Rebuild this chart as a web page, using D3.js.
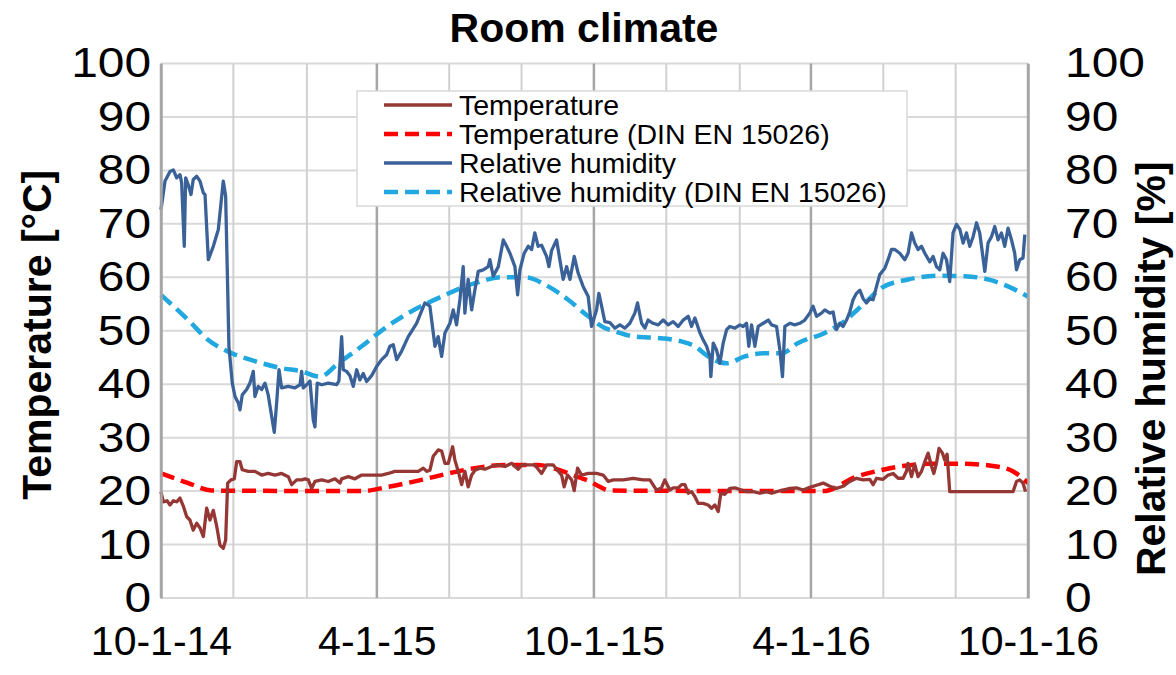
<!DOCTYPE html>
<html>
<head>
<meta charset="utf-8">
<script src="https://cdn.jsdelivr.net/npm/d3@7"></script>
<style>
  html, body { margin: 0; padding: 0; background: #fff; }
  svg text { font-family: "Liberation Sans", Arial, sans-serif; }
</style>
</head>
<body>
<svg id="chart" width="1176" height="675"></svg>
<script>
// ---- Data (day offsets from 2014-10-01) ----
const startDate = "2014-10-01";
const endDate = "2016-10-01";

const tempDays = [0,1.9,5.1,7.6,10.4,13.2,16,18.8,21.7,24.4,27.2,30.1,32.9,35.7,38.5,41.3,44.1,46.9,49.7,52.5,54.5,56.2,59,61.8,63.8,66.6,68.5,73.6,79.2,84.9,90.4,96.1,101.7,107.3,110.2,114.4,118.6,121.4,124.2,127,129.8,135.5,141,146.7,150.9,152.3,157.9,163.5,169.2,177.6,186,191.6,197.2,202.9,208.5,216.9,221.1,224,226.7,229.5,233.7,236.6,239.4,242.2,245.9,247.8,250.6,253.5,256.2,259,261.9,264.7,268.9,273.1,278.7,284.3,290,295.6,301.2,304,309.6,315.2,320.9,325.1,330.7,333.5,337.8,339.9,342.8,346.2,348.4,351.2,354.6,360.2,367.2,372.8,377.1,381.3,389.7,398.1,406.6,412.2,417.8,422,424.8,429,431.8,436.1,438.9,441.7,444.5,447.3,450.1,452.9,457.1,461.3,464.2,467,469.8,472,475.4,479.6,483.9,488.1,493.7,499.3,504.9,510.5,514.8,519,524.5,530.2,535.8,541.4,547,552.7,558.3,563.9,569.5,575.1,580.7,586.4,592,597.6,600.4,603.3,608.8,613.1,617.3,621.5,625.7,628.5,629.9,632.8,635.5,638.3,641.2,644,646.8,649.7,651.6,653.8,656,658.9,660.8,662.8,665,676.3,690.3,704.4,718.4,721.3,724,726.8,728.9];
const tempValues = [19.9,18,18.2,17.4,18.2,18,18.7,17.2,15.2,14.6,12.7,14,13.1,11.5,16.8,14.6,16.4,13.5,9.9,9.3,10.8,21.5,22.1,22.3,25.5,25.5,24,23.7,23.7,23,23.3,23,23.3,22.7,21.2,22.1,22.1,22.3,22.1,20.5,21.8,22.1,21.8,22.3,21.5,22.3,22.7,22.3,23,23,23,23.3,23.7,23.7,23.7,23.7,24.3,23.7,23.9,26.5,27.7,27.5,25.2,25.2,28.3,25.8,23.7,21.2,23.7,20.8,23,23.9,24.3,24.1,24.6,24.9,24.6,25.2,24.1,24.9,24.9,24.9,23.3,24.9,24.9,24.1,23,20.8,23,22.1,20.1,24.3,23,23.3,23.3,23,21.8,22.1,22.1,22.4,22.1,22.1,20.2,20.6,22.1,20.2,20.6,20.6,21.2,21.2,19.6,19.9,19,17.7,17.7,17.4,16.8,17.4,16.2,19.6,19.4,20.5,20.6,20.3,19.9,19.9,19.6,19.9,19.6,19.9,20.2,20.5,20.6,20.2,20.7,21.1,21.5,20.9,20.5,20.9,21.8,22.4,22.1,22.2,21.2,22.4,22.2,23,23.3,22.4,22.4,23.7,25.2,22.7,25,22.7,23.7,25.5,27.1,24.6,23.3,25.2,28,27.1,25.8,26.9,19.9,19.9,19.9,19.9,19.9,21.8,22.1,21.5,19.9];

const tempDinDays = [0,23,42.7,169.2,191.6,219.7,242.2,264.7,290,318,334.9,354.6,361.6,370,378.5,558.3,586.4,608.8,625.4,648.2,676.3,704.4,718.2,731];
const tempDinValues = [23.3,21.5,20.1,20,20.8,22.1,23.3,24.3,24.9,24.9,24,22.4,21.8,20.8,20.1,20,22.7,24,24.7,25.1,25.1,24.6,23.7,21.5];

const rhDays = [0,3.4,7.6,10.4,13.2,16,17.4,19.6,20.8,23,25.3,27.2,30.1,32.9,35.7,37.1,39.9,44.1,48.3,52.5,54.5,57.3,60.1,62.4,65.2,66.6,68.5,72.2,75,77.8,79.2,82,84.9,87.7,90.4,93.3,95.5,97.5,99.5,101.7,107.3,112.9,117.2,118.6,119.9,124.2,125.6,128.4,129.8,131.7,135.5,141,148.1,150,152.3,153.7,156.5,159.3,162.1,165,167.7,170.5,173.4,177.6,181.8,186,190.2,193,195.8,198.7,202.9,208.5,215.5,222.5,226.7,231,233.7,236.6,239.4,243.6,246.4,249.2,252,254.8,256.2,259,261.9,264.7,267.5,271.7,275.9,277.3,280.1,284.4,288.6,291.4,294.2,298.4,300.7,302.6,306.2,309.6,312.5,315.2,318,320.9,325.1,327.1,329.3,333.5,336.3,339.1,342,344.8,348.4,351.7,355.9,360.2,363,367.2,369.2,371.5,374.2,378.5,382.7,386.9,391.1,395.3,399.5,401.8,405.2,408,410.7,414.9,419.2,423.4,427.6,431.8,436.1,440.3,444.5,447.3,450.2,454.4,457.1,460,462.8,463.6,465.6,468.4,471.2,474,476.9,479.6,483.9,488.1,490.8,493.7,495.6,497.9,500.7,503.5,507.8,512,514.8,519,521.8,524,526,530.2,534.4,538.6,542.8,547,549.8,552.7,556.9,559.7,563.9,566.7,569.5,572.3,575.1,578,580.7,583.5,586.4,589.2,592,594.8,597.6,600.4,603.3,606,610.3,613,615.9,618.7,622.9,627.1,629.9,632.8,635.5,638.3,641.2,644,648.2,651,653.8,656.6,659.4,662.3,665,667.8,670.7,673.5,676.3,679.1,681.9,684.7,687.6,690.3,691.8,694.6,697.3,700.2,703,705.8,708.6,711.4,714.2,717.1,719.8,721.3,724,726.8,728.3];
const rhValues = [72.7,78,79.8,80.1,78.6,79.2,77.7,65.8,78.6,77.3,75.5,78.3,78.9,78,75.8,75.5,63.3,65.8,68.9,78,75.2,47,40.2,37.7,36.5,35.2,38,39,40.2,42.4,37.7,39.6,39,40.2,38,34,31,36.5,42.7,39.3,39.6,39.3,39.9,42.4,39.3,40.2,40.6,33.3,32,40.2,39.9,40.2,39.9,40.6,48.9,42.7,42.4,41.6,39.6,42.7,40.8,42,40.5,41.6,43.3,44.6,45.5,47.1,47.4,44.6,46.2,48.9,51.4,55.2,54.6,47.1,48.9,45.2,49.6,51.4,53.9,51.1,55.8,62,53.3,59.6,53.9,57.7,61.1,61.4,62,63.3,60.2,62,67,65.8,64.5,62,56.7,61.4,64.5,65.8,65.2,68.3,65.8,66,63.9,62,65,67,63.3,59.6,62,59.6,63.9,60.8,58.3,56.4,50.8,53.9,57,54.6,51.7,51.5,50.5,51.1,50.5,51.4,53.3,55.2,51.4,50.5,52,51.4,51.1,52,51.1,51.7,50.8,52,52.7,50.8,52.4,49.6,48.3,47.1,45.2,41.4,47.7,46.4,43.9,47.7,50.2,50.8,50.5,51.1,50.8,51.4,47.1,51.1,47.1,50.8,51.4,52,51.1,50.8,46.4,41.4,50.8,51.4,51.1,51.4,52,53.3,54.6,52.7,53.3,53.9,53.3,53.5,50.2,51.4,50.8,52,53.5,55.8,57,57.6,56,55.2,56,55.8,58.3,60.5,61.7,63.3,65.2,65.2,64.5,63.3,64.5,68.3,66.4,65.2,65.8,64.5,62.9,63.9,62,61.4,64.5,63.3,59.2,68.3,69.9,69,66.4,68.3,65.8,67.6,70.2,68.3,65.8,61.1,66.4,67.6,69.5,67,68.3,65.8,69.2,67,64.5,61.4,63.3,63.6,68];

const rhDinDays = [0,23,39.6,59.6,79.2,101.7,118.6,134,149.4,169.2,188.8,208.5,236.6,264.7,287.2,306.8,326.5,343.3,360.2,374.2,382.7,399.5,422,438.9,450.1,461.3,476.8,492.3,509.1,523.2,537.2,559.7,573.8,593.4,607.5,629.9,658,677.7,697.3,714.2,731];
const rhDinValues = [56.7,52,48.3,45.8,44.3,43,42.4,41.4,43.9,47.1,50.5,53.3,56.4,58.9,60,60,58.3,55.8,52.7,50.5,49.9,48.9,48.6,48,47.1,45.2,43.9,45.2,45.8,45.8,47.7,49.6,51.4,55.2,58,59.6,60.3,60.2,59.6,58.3,56.4];

const yTicks = [0,10,20,30,40,50,60,70,80,90,100];
const xTickLabels = ["10-1-14","4-1-15","10-1-15","4-1-16","10-1-16"];
const seriesNames = ["Temperature","Temperature (DIN EN 15026)","Relative humidity","Relative humidity (DIN EN 15026)"];
const seriesColors = ["#953735","#ff0000","#3a6298","#22a8e0"];
const chartTitle = "Room climate";
const leftTitle = "Temperature [°C]";
const rightTitle = "Relative humidity [%]";

// ---- Layout ----
const svg = d3.select("#chart");
const L = 161, R = 1028, T = 63.5, B = 598;
const FONT = '"Liberation Sans", Arial, sans-serif';
const parse = d3.utcParse("%Y-%m-%d");
const t0 = parse(startDate), t1 = parse(endDate);
const toDate = d => new Date(t0.getTime() + d * 86400000);

const x = d3.scaleUtc().domain([t0, t1]).range([L, R]);
const y = d3.scaleLinear().domain([0, 100]).range([B, T]);

// gridlines horizontal
svg.append("g").selectAll("line").data(yTicks).join("line")
  .attr("x1", L).attr("x2", R)
  .attr("y1", d => y(d)).attr("y2", d => y(d))
  .attr("stroke", "#d9d9d9").attr("stroke-width", 2);

// vertical gridlines every 2 months (minor) and 6 months (major)
const tEnd = d3.utcDay.offset(t1, 1);
const minorDates = d3.utcMonth.range(t0, tEnd, 2);
const isMajor = d => (d.getUTCMonth() === 3 || d.getUTCMonth() === 9);
svg.append("g").selectAll("line").data(minorDates).join("line")
  .attr("x1", d => x(d)).attr("x2", d => x(d))
  .attr("y1", T).attr("y2", B)
  .attr("stroke", d => isMajor(d) ? "#a6a6a6" : "#d0d0d0")
  .attr("stroke-width", d => isMajor(d) ? 2.5 : 2);

// series lines
function series(days, vals) { return days.map((d, i) => [toDate(d), vals[i]]); }

const lines = [
  {data: series(tempDays, tempValues), color: seriesColors[0], dash: null, w: 3.3},
  {data: series(tempDinDays, tempDinValues), color: seriesColors[1], dash: "14,7", w: 4.5},
  {data: series(rhDays, rhValues), color: seriesColors[2], dash: null, w: 3.3},
  {data: series(rhDinDays, rhDinValues), color: seriesColors[3], dash: "14,7", w: 4.5}
];
const drawOrder = [3, 1, 0, 2];
drawOrder.forEach(i => {
  const s = lines[i];
  svg.append("path").attr("d", d3.line().curve(s.dash ? d3.curveMonotoneX : d3.curveLinear).x(d => x(d[0])).y(d => y(d[1]))(s.data))
    .attr("fill", "none").attr("stroke", s.color).attr("stroke-width", s.w)
    .attr("stroke-linejoin", "round")
    .attr("stroke-dasharray", s.dash);
});

// stretch y tick labels slightly wider (reference text is horizontally wide)
function widen(sel, k) {
  sel.each(function () {
    const w = this.getComputedTextLength();
    d3.select(this).attr("textLength", w * k).attr("lengthAdjust", "spacingAndGlyphs");
  });
}

// axes
const yLeft = d3.axisLeft(y).tickValues(yTicks).tickSize(0).tickPadding(10);
const gl = svg.append("g").attr("transform", `translate(${L},0)`).call(yLeft);
gl.select(".domain").attr("stroke", "#a6a6a6").attr("stroke-width", 2.5);
gl.selectAll("text").attr("font-size", 42).attr("fill", "#000").attr("font-family", FONT);
widen(gl.selectAll("text"), 1.14);

const yRight = d3.axisRight(y).tickValues(yTicks).tickSize(0).tickPadding(37);
const gr = svg.append("g").attr("transform", `translate(${R},0)`).call(yRight);
gr.select(".domain").attr("stroke", "#a6a6a6").attr("stroke-width", 2.5);
gr.selectAll("text").attr("font-size", 42).attr("fill", "#000").attr("font-family", FONT);
widen(gr.selectAll("text"), 1.14);

const xTickDates = d3.utcMonth.range(t0, tEnd, 6);
const xAxis = d3.axisBottom(x).tickValues(xTickDates).tickSize(0).tickPadding(28)
  .tickFormat((d, i) => xTickLabels[i]);
const gx = svg.append("g").attr("transform", `translate(0,${B})`).call(xAxis);
gx.select(".domain").remove();
gx.selectAll("text").attr("font-size", 41).attr("fill", "#000").attr("font-family", FONT);

// titles
svg.append("text").attr("x", 584).attr("y", 42).attr("text-anchor", "middle")
  .attr("font-size", 41).attr("font-weight", "bold").text(chartTitle);
svg.append("text").attr("transform", `translate(51,${(T + B) / 2 + 4}) rotate(-90)`)
  .attr("text-anchor", "middle").attr("font-size", 41).attr("font-weight", "bold").text(leftTitle);
svg.append("text").attr("transform", `translate(1165,${(T + B) / 2 + 38}) rotate(-90)`)
  .attr("text-anchor", "middle").attr("font-size", 41).attr("font-weight", "bold").text(rightTitle);

// legend
const lg = svg.append("g");
lg.append("rect").attr("x", 357).attr("y", 91).attr("width", 550).attr("height", 115)
  .attr("fill", "#fff").attr("stroke", "#d9d9d9").attr("stroke-width", 1.5);
seriesNames.forEach((name, i) => {
  const yy = 105 + i * 29;
  lg.append("line").attr("x1", 384).attr("x2", 452).attr("y1", yy).attr("y2", yy)
    .attr("stroke", seriesColors[i]).attr("stroke-width", lines[i].w)
    .attr("stroke-dasharray", lines[i].dash);
  lg.append("text").attr("x", 459).attr("y", yy + 10).attr("font-size", 28.5).attr("fill", "#000").text(name);
});
</script>
</body>
</html>
